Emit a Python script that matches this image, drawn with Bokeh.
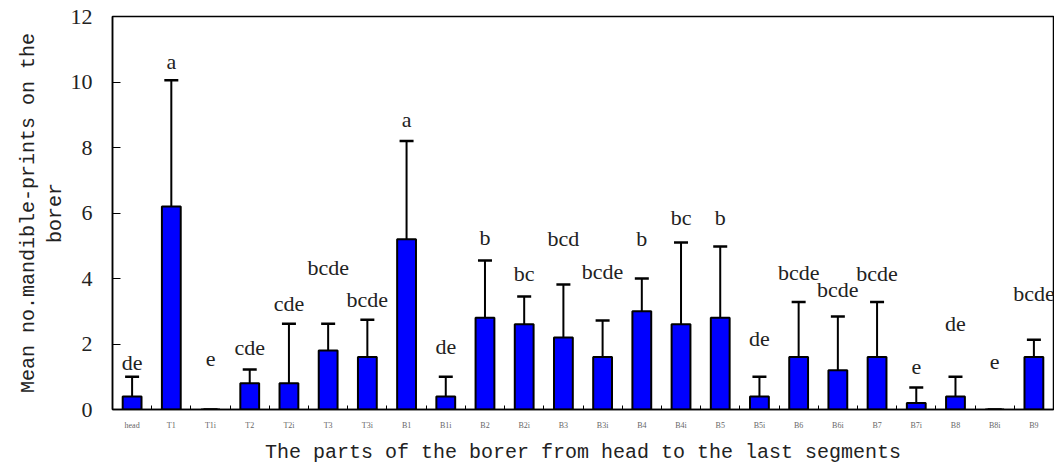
from bokeh.plotting import figure
from bokeh.models import ColumnDataSource, Whisker, TeeHead, FixedTicker, Range1d, Title
from bokeh.core.properties import value
from bokeh.embed import file_html
from bokeh.resources import INLINE

categories = ["head", "T1", "T1i", "T2", "T2i", "T3", "T3i", "B1", "B1i", "B2", "B2i", "B3",
              "B3i", "B4", "B4i", "B5", "B5i", "B6", "B6i", "B7", "B7i", "B8", "B8i", "B9"]
means = [0.4, 6.2, 0.0, 0.8, 0.8, 1.8, 1.6, 5.2, 0.4, 2.8, 2.6, 2.2,
         1.6, 3.0, 2.6, 2.8, 0.4, 1.6, 1.2, 1.6, 0.2, 0.4, 0.0, 1.6]
errors = [0.6, 3.85, 0.0, 0.42, 1.82, 0.82, 1.14, 3.0, 0.6, 1.75, 0.85, 1.62,
          1.12, 1.0, 2.5, 2.18, 0.6, 1.68, 1.64, 1.68, 0.47, 0.6, 0.0, 0.53]
letters = ["de", "a", "e", "cde", "cde", "bcde", "bcde", "a", "de", "b", "bc", "bcd",
           "bcde", "b", "bc", "b", "de", "bcde", "bcde", "bcde", "e", "de", "e", "bcde"]
letter_y = [1.44, 10.63, 1.53, 1.89, 3.24, 4.34, 3.36, 8.85, 1.92, 5.25, 4.15, 5.22,
            4.21, 5.22, 5.86, 5.86, 2.17, 4.18, 3.66, 4.15, 1.31, 2.63, 1.44, 3.54]
y_ticks = [0, 2, 4, 6, 8, 10, 12]
y_title = ["Mean no.mandible-prints on the", "borer"]
x_title = "The parts of the borer from head to the last segments"

n = len(categories)
xc = [i + 0.5 for i in range(n)]
upper = [m + e for m, e in zip(means, errors)]

src = ColumnDataSource(dict(x=xc, top=means, upper=upper, lab=letters, ly=letter_y))

p = figure(width=1054, height=466, output_backend="svg", toolbar_location=None,
           x_range=Range1d(0, n), y_range=Range1d(0, 12),
           min_border_left=112, min_border_right=1, min_border_top=16, min_border_bottom=5)

p.vbar(x="x", top="top", bottom=0, width=0.48, source=src,
       fill_color="#0000FF", line_color="black", line_width=2)

w = Whisker(base="x", upper="upper", lower="top", source=src,
            line_color="black", line_width=2,
            upper_head=TeeHead(size=14, line_color="black", line_width=2.5),
            lower_head=None)
p.add_layout(w)

p.text(x="x", y="ly", text="lab", source=src, text_align="center", text_baseline="middle",
       text_font=value("Liberation Serif"), text_font_size="22px", text_color="#222222")

p.grid.visible = False
p.outline_line_color = "black"
p.outline_line_width = 1.5

# x axis
p.xaxis.ticker = FixedTicker(ticks=xc, minor_ticks=list(range(1, n)))
p.xaxis.major_label_overrides = {x: c for x, c in zip(xc, categories)}
p.xaxis.major_tick_line_color = None
p.xaxis.minor_tick_in = 4
p.xaxis.minor_tick_out = 0
p.xaxis.minor_tick_line_color = "black"
p.xaxis.axis_line_color = "black"
p.xaxis.axis_line_width = 1.5
p.xaxis.major_label_text_font = "Liberation Serif"
p.xaxis.major_label_text_font_size = "8px"
p.xaxis.major_label_text_color = "#666666"
p.xaxis.major_label_standoff = 5
p.xaxis.axis_label = x_title
p.xaxis.axis_label_text_font = "Liberation Mono"
p.xaxis.axis_label_text_font_size = "20px"
p.xaxis.axis_label_text_font_style = "normal"
p.xaxis.axis_label_text_color = "#222222"
p.xaxis.axis_label_standoff = 8

# y axis
p.yaxis.ticker = FixedTicker(ticks=y_ticks)
p.yaxis.minor_tick_line_color = None
p.yaxis.major_tick_in = 8
p.yaxis.major_tick_out = 0
p.yaxis.major_tick_line_color = "black"
p.yaxis.axis_line_color = "black"
p.yaxis.axis_line_width = 1.5
p.yaxis.major_label_text_font = "Liberation Serif"
p.yaxis.major_label_text_font_size = "22px"
p.yaxis.major_label_text_color = "#222222"
p.yaxis.major_label_standoff = 20

for line in reversed(y_title):
    p.add_layout(Title(text=line, align="center", text_font="Liberation Mono",
                       text_font_size="20px", text_font_style="normal",
                       text_color="#222222", standoff=2), "left")

open("out.html", "w").write(file_html(p, INLINE))
